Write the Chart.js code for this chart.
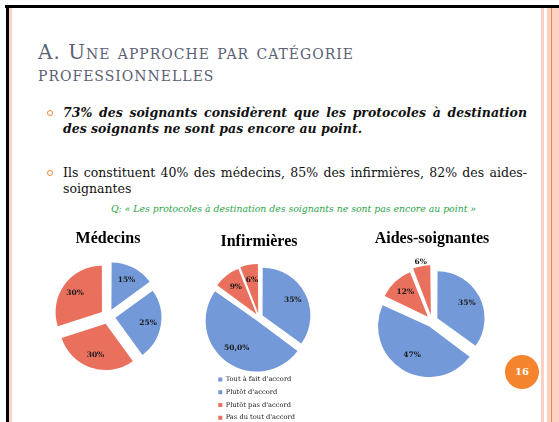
<!DOCTYPE html>
<html lang="fr">
<head>
<meta charset="UTF-8" />
<title>Une approche par catégorie professionnelle</title>
<script src="https://cdn.jsdelivr.net/npm/chart.js"></script>
<style>
  html, body { margin: 0; padding: 0; background: #fff; overflow: hidden; }
  #slide { position: relative; width: 559px; height: 422px; overflow: hidden; font-family: "DejaVu Serif", serif; }
  .abs { position: absolute; white-space: nowrap; }
  .titre { left: 38px; font-size: 20px; line-height: 24px; color: #5a6172; font-variant: small-caps; letter-spacing: 1px; }
  .puce { position: absolute; left: 47px; width: 4px; height: 4px; border: 1.5px solid #f08a3a; border-radius: 50%; }
  .ligne { left: 63px; font-size: 12.5px; line-height: 16px; color: #111; }
  .just { width: 464px; text-align: justify; text-align-last: justify; }
  .gras { font-weight: bold; font-style: italic; }
  .q { left: 100px; width: 387px; text-align: center; font-size: 9.3px; line-height: 10px; font-style: italic; color: #28a446; }
  .graph { position: absolute; }
  #numero { position: absolute; left: 505px; top: 355px; width: 34px; height: 34px; border-radius: 50%; background: #f5842e;
            color: #fff; font: bold 10px "DejaVu Serif", serif; line-height: 34px; text-align: center; }
</style>
</head>
<body>
<div id="slide">
  <!-- cadre -->
  <div class="abs" style="left:5px;top:5px;width:554px;height:3px;background:#000"></div>
  <div class="abs" style="left:6px;top:5px;width:3px;height:417px;background:#000"></div>
  <div class="abs" style="left:9px;top:8px;width:3px;height:414px;background:#fcd3c6"></div>
  <div class="abs" style="left:541px;top:8px;width:3px;height:414px;background:#fcd0c2"></div>
  <div class="abs" style="left:547px;top:8px;width:12px;height:414px;background:#fcd0c2"></div>
  <div class="abs" style="left:551px;top:8px;width:1px;height:414px;background:#f0884e"></div>

  <div class="abs titre" style="top:40px">A. Une approche par catégorie</div>
  <div class="abs titre" style="top:62px">professionnelles</div>

  <div class="puce" style="top:110px"></div>
  <div class="abs ligne just gras" style="top:105px">73% des soignants considèrent que les protocoles à destination</div>
  <div class="abs ligne gras" style="top:121px">des soignants ne sont pas encore au point.</div>

  <div class="puce" style="top:170px"></div>
  <div class="abs ligne just" style="top:165px">Ils constituent 40% des médecins, 85% des infirmières, 82% des aides-</div>
  <div class="abs ligne" style="top:181px">soignantes</div>

  <div class="abs q" style="top:204px">Q: « Les protocoles à destination des soignants ne sont pas encore au point »</div>

  <div class="graph" style="left:48px;top:226px;width:120px;height:145px"><canvas id="g1"></canvas></div>
  <div class="graph" style="left:200px;top:226px;width:118px;height:205px"><canvas id="g2"></canvas></div>
  <div class="graph" style="left:372px;top:226px;width:120px;height:151px"><canvas id="g3"></canvas></div>

  <div id="numero">16</div>
</div>

<script>
  const categories = ["Tout à fait d'accord", "Plutôt d'accord", "Plutôt pas d'accord", "Pas du tout d'accord"];
  const medecins = [15, 25, 30, 30];
  const infirmieres = [35, 50, 9, 6];
  const aidesSoignantes = [35, 47, 12, 6];
  const medecinsTxt = ['15%', '25%', '30%', '30%'];
  const infirmieresTxt = ['35%', '50,0%', '9%', '6%'];
  const aidesTxt = ['35%', '47%', '12%', '6%'];
  const couleurs = ['#7399d8', '#7399d8', '#e9705c', '#e9705c'];

  // étiquettes % sur les parts
  const etiquettes = {
    id: 'etiquettes',
    afterDatasetsDraw(chart, args, opts) {
      const ctx = chart.ctx;
      const meta = chart.getDatasetMeta(0);
      ctx.save();
      ctx.font = 'bold 7.5px "DejaVu Serif"';
      ctx.fillStyle = '#1a1a1a';
      ctx.textAlign = 'center';
      ctx.textBaseline = 'middle';
      meta.data.forEach((arc, i) => {
        const p = arc.getProps(['x', 'y', 'startAngle', 'endAngle', 'outerRadius']);
        const mid = (p.startAngle + p.endAngle) / 2;
        const decal = (arc.options.offset || 0) / 4;
        const d = opts.dehors.includes(i) ? p.outerRadius + decal + 8 : decal + p.outerRadius * 0.72;
        ctx.fillText(opts.textes[i], p.x + Math.cos(mid) * d, p.y + Math.sin(mid) * d);
      });
      ctx.restore();
    }
  };

  function camembert(id, titre, valeurs, textes, o) {
    return new Chart(document.getElementById(id), {
      type: 'pie',
      data: {
        labels: categories,
        datasets: [{
          data: valeurs,
          backgroundColor: couleurs,
          borderWidth: 0,
          offset: o.offset,
          hoverOffset: 0,
          radius: o.rayon
        }]
      },
      options: {
        responsive: true,
        maintainAspectRatio: false,
        animation: false,
        devicePixelRatio: 1,
        layout: { padding: o.padding || 0 },
        plugins: {
          title: {
            display: true,
            text: titre,
            color: '#000',
            font: { family: '"Liberation Serif", serif', size: 16, weight: 'bold', lineHeight: 1.2 },
            padding: o.titrePad
          },
          legend: o.legende ? {
            display: true,
            position: 'bottom',
            align: 'start',
            labels: {
              boxWidth: 4,
              boxHeight: 4,
              padding: 6,
              color: '#222',
              font: { family: '"DejaVu Serif", serif', size: 6.7 }
            }
          } : { display: false },
          tooltip: { enabled: false },
          etiquettes: { textes: textes, dehors: o.dehors || [] }
        }
      },
      plugins: [etiquettes]
    });
  }

  camembert('g1', 'Médecins', medecins, medecinsTxt,
    { offset: 30, rayon: 46, titrePad: { top: 3.4, bottom: 13.4 } });
  camembert('g2', 'Infirmières', infirmieres, infirmieresTxt,
    { offset: 16, rayon: 47, titrePad: { top: 6.1, bottom: 13.2 }, legende: true,
      padding: { left: 12.3, right: 12.3 } });
  camembert('g3', 'Aides-soignantes', aidesSoignantes, aidesTxt,
    { offset: 24, rayon: 46, titrePad: { top: 3.7, bottom: 16.1 }, dehors: [3] });
</script>
</body>
</html>
